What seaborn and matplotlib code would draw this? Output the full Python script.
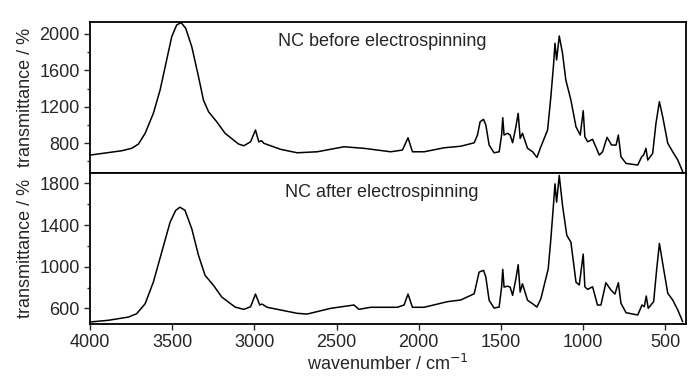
import matplotlib
matplotlib.use("Agg")
import matplotlib.pyplot as plt
import seaborn as sns
import pandas as pd
from matplotlib.ticker import MultipleLocator

wn_before = [4000, 3809, 3748, 3707, 3666, 3616, 3575, 3535, 3504, 3474, 3447, 3419,
             3382, 3341, 3311, 3280, 3230, 3179, 3097, 3065, 3024, 2994, 2974, 2957,
             2943, 2841, 2740, 2618, 2455, 2333, 2171, 2099, 2065, 2038, 1967, 1845,
             1744, 1662, 1642, 1626, 1605, 1591, 1571, 1541, 1510, 1495, 1488, 1480,
             1459, 1443, 1428, 1408, 1394, 1382, 1368, 1337, 1306, 1280, 1256, 1215,
             1195, 1178, 1170, 1160, 1144, 1124, 1104, 1073, 1042, 1016, 998, 988,
             971, 941, 900, 880, 853, 825, 798, 784, 768, 737, 666, 642, 630, 616,
             605, 575, 555, 534, 514, 483, 453, 422, 392]
tr_before = [668, 715, 742, 789, 907, 1127, 1383, 1714, 1970, 2099, 2125, 2063,
             1860, 1530, 1273, 1145, 1034, 907, 789, 770, 814, 943, 814, 825,
             797, 731, 693, 704, 759, 742, 704, 723, 858, 704, 704, 748,
             765, 803, 888, 1034, 1061, 998, 778, 693, 704, 888, 1079, 888,
             907, 888, 803, 979, 1127, 852, 907, 742, 704, 642, 759, 943,
             1310, 1677, 1898, 1714, 1978, 1787, 1494, 1273, 979, 888, 1156, 869,
             814, 841, 668, 704, 863, 778, 778, 888, 649, 576, 558, 649, 668, 742,
             613, 686, 1017, 1255, 1090, 797, 704, 613, 484]

wn_after = [4000, 3890, 3768, 3718, 3666, 3616, 3565, 3514, 3480, 3454, 3423, 3382,
            3341, 3301, 3250, 3199, 3118, 3065, 3024, 2994, 2968, 2954, 2923, 2841,
            2740, 2679, 2536, 2394, 2364, 2293, 2130, 2089, 2065, 2038, 1967, 1825,
            1744, 1662, 1632, 1605, 1591, 1571, 1541, 1510, 1495, 1488, 1480, 1459,
            1443, 1428, 1408, 1394, 1382, 1368, 1337, 1306, 1280, 1256, 1211, 1195,
            1178, 1170, 1160, 1144, 1124, 1098, 1073, 1042, 1022, 998, 988, 971,
            941, 911, 890, 860, 829, 805, 784, 768, 737, 666, 640, 626, 614, 602,
            569, 551, 534, 514, 483, 453, 422, 392]
tr_after = [469, 485, 516, 548, 644, 852, 1140, 1428, 1541, 1572, 1541, 1364,
            1109, 917, 821, 708, 612, 590, 615, 737, 632, 641, 610, 584,
            552, 545, 600, 632, 590, 610, 610, 632, 737, 610, 610, 664,
            680, 740, 948, 965, 900, 677, 603, 612, 804, 974, 804, 813,
            804, 725, 884, 1019, 756, 836, 677, 644, 612, 692, 980, 1268,
            1620, 1796, 1620, 1877, 1589, 1301, 1236, 852, 824, 1121, 807, 782,
            807, 632, 632, 846, 776, 737, 846, 648, 558, 536, 632, 616, 718, 600,
            664, 968, 1224, 1032, 744, 680, 584, 471]

labels = ["NC before electrospinning", "NC after electrospinning"]

sns.set_style("ticks")
plt.rcParams['font.family'] = ['Liberation Sans Narrow', 'Liberation Sans', 'DejaVu Sans']
plt.rcParams['font.size'] = 13

fig, (ax1, ax2) = plt.subplots(2, 1, figsize=(7, 3.82), dpi=100, sharex=True)
fig.subplots_adjust(left=0.129, right=0.98, top=0.942, bottom=0.152, hspace=0)

df1 = pd.DataFrame({"wn": wn_before, "tr": tr_before})
df2 = pd.DataFrame({"wn": wn_after, "tr": tr_after})
sns.lineplot(data=df1, x="wn", y="tr", ax=ax1, color="black", lw=1.1, sort=False)
sns.lineplot(data=df2, x="wn", y="tr", ax=ax2, color="black", lw=1.1, sort=False)

ax1.set_xlim(4000, 372)
ax1.set_ylim(470, 2130)
ax2.set_ylim(450, 1900)
ax1.set_yticks([800, 1200, 1600, 2000])
ax2.set_yticks([600, 1000, 1400, 1800])
ax2.set_xticks([4000, 3500, 3000, 2500, 2000, 1500, 1000, 500])

for ax, lab in zip((ax1, ax2), labels):
    ax.yaxis.set_minor_locator(MultipleLocator(200))
    ax.tick_params(axis="both", which="major", direction="out", length=4, width=1, labelsize=13)
    ax.tick_params(axis="y", which="minor", direction="out", length=2.5, width=1)
    for s in ax.spines.values():
        s.set_linewidth(1.3)
        s.set_color("black")
    ax.set_ylabel("transmittance / %", fontsize=13, labelpad=4)
    ax.text(0.49, 0.87, lab, transform=ax.transAxes, ha="center", va="center", fontsize=13)
    ax.set_xlabel("")

ax1.tick_params(axis="x", which="both", bottom=False, labelbottom=False)
ax2.set_xlabel("wavenumber / cm$^{-1}$", fontsize=13, labelpad=2)
fig.align_ylabels((ax1, ax2))

fig.savefig("out.png", dpi=100)
